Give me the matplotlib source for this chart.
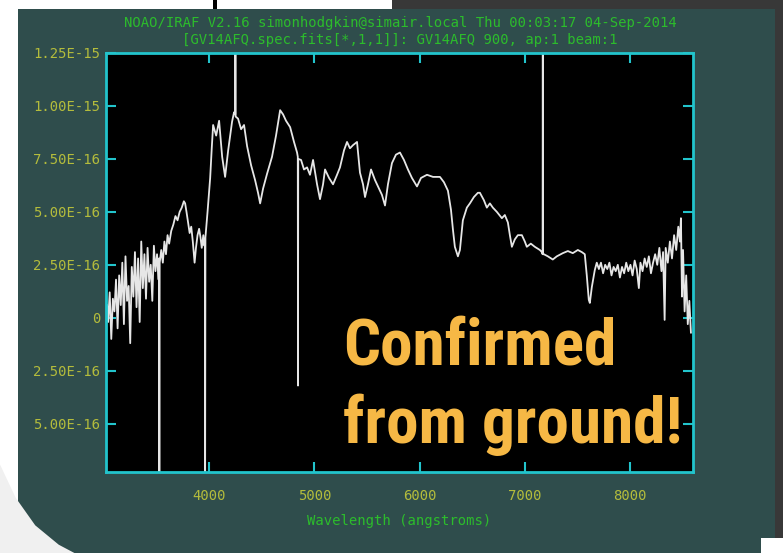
import numpy as np
import matplotlib
matplotlib.use("Agg")
import matplotlib.pyplot as plt
from matplotlib import font_manager
from matplotlib.patches import Rectangle, Polygon

# spectrum, flux in units of 1e-16
wave_blue = [3030, 3040, 3055, 3070, 3085, 3100, 3115, 3130, 3145, 3160,
             3175, 3190, 3205, 3220, 3235, 3250, 3265, 3280, 3295, 3310,
             3325, 3340, 3355, 3370, 3385, 3400, 3415, 3430, 3445, 3460,
             3475, 3490, 3505, 3520, 3524, 3527, 3530, 3545, 3560, 3575,
             3590, 3605, 3620, 3640, 3660, 3680, 3700, 3720, 3740, 3760,
             3772, 3785, 3800, 3815, 3830, 3845, 3862, 3875, 3890, 3905,
             3918, 3930, 3945, 3955, 3960, 3962, 3965, 3985, 4010, 4025,
             4038, 4067, 4095, 4124, 4152, 4181, 4218, 4237, 4248, 4250,
             4252]
flux_blue = [0.6, -0.2, 1.2, -1.0, 0.9, 0.3, 1.8, -0.5, 2.0, 0.6,
             2.6, -0.3, 2.9, 0.8, 1.5, -1.2, 2.4, 1.0, 3.1, 0.5,
             2.8, -0.2, 3.6, 1.4, 3.0, 0.9, 3.3, 1.7, 2.5, 0.8,
             3.4, 2.2, 3.0, 1.8, 2.8, -8.0, 2.6, 3.2, 2.6, 3.6,
             3.0, 3.9, 3.5, 4.1, 4.4, 4.8, 4.6, 5.0, 5.2, 5.5,
             5.4, 5.0, 4.5, 4.0, 4.3, 3.6, 2.6, 3.3, 3.9, 4.2,
             3.8, 3.3, 3.9, 3.4, 3.6, -8.0, 3.8, 5.0, 6.6, 8.0,
             9.1, 8.6, 9.3, 7.6, 6.65, 7.9, 9.25, 9.7, 9.6, 14.0,
             9.5]

wave_mid = [4275, 4304, 4332, 4361, 4399, 4437, 4465, 4485, 4513, 4551,
            4598, 4636, 4675, 4703, 4731, 4770, 4807, 4836, 4843, 4845,
            4847, 4874, 4902, 4931, 4959, 4988, 5026, 5054, 5083, 5102,
            5140, 5178, 5216, 5244, 5282, 5311, 5339, 5368, 5406, 5434,
            5463, 5482, 5510, 5539, 5577, 5605, 5643, 5672, 5700, 5738,
            5776, 5814, 5852, 5890, 5928, 5976, 6014, 6071, 6128, 6194,
            6232, 6270, 6299, 6318, 6336, 6365, 6384, 6412, 6450, 6479,
            6517, 6555, 6574, 6612, 6640, 6669, 6697, 6735, 6783, 6811,
            6840, 6859, 6878, 6906, 6935, 6973, 7001, 7020, 7058, 7096]
flux_mid = [9.4, 8.9, 9.1, 8.1, 7.2, 6.5, 5.9, 5.4, 6.1, 6.8,
            7.6, 8.6, 9.8, 9.6, 9.3, 9.0, 8.3, 7.8, 7.6, -3.2,
            7.5, 7.45, 7.0, 7.1, 6.75, 7.45, 6.3, 5.6, 6.3, 7.0,
            6.6, 6.3, 6.75, 7.1, 7.9, 8.3, 8.0, 8.15, 8.3, 6.85,
            6.3, 5.7, 6.3, 7.0, 6.5, 6.2, 5.8, 5.3, 6.3, 7.3,
            7.7, 7.8, 7.45, 7.0, 6.6, 6.2, 6.6, 6.75, 6.65, 6.65,
            6.4, 6.0, 5.1, 4.15, 3.35, 2.9, 3.2, 4.6, 5.2, 5.4,
            5.7, 5.9, 5.9, 5.55, 5.2, 5.4, 5.2, 5.0, 4.7, 4.85,
            4.5, 3.9, 3.35, 3.7, 3.9, 3.9, 3.6, 3.35, 3.5, 3.35]

wave_red = [7144, 7163, 7170, 7172, 7174, 7182, 7220, 7267, 7305, 7362,
            7410, 7457, 7505, 7543, 7571, 7590, 7609, 7619, 7638, 7666,
            7685, 7705, 7725, 7745, 7765, 7785, 7805, 7825, 7845, 7865,
            7885, 7905, 7925, 7945, 7965, 7985, 8005, 8025, 8045, 8065,
            8085, 8100, 8120, 8140, 8160, 8180, 8200, 8220, 8240, 8260,
            8280, 8300, 8315, 8330, 8340, 8360, 8380, 8400, 8420, 8440,
            8460, 8475, 8485, 8495, 8505, 8520, 8535, 8550, 8565, 8580]
flux_red = [3.2, 3.1, 3.0, 14.0, 3.0, 3.0, 2.9, 2.75, 2.9, 3.05,
            3.15, 3.05, 3.2, 3.1, 3.0, 2.0, 0.85, 0.7, 1.45, 2.25,
            2.6, 2.3, 2.6, 2.1, 2.5, 2.3, 2.6, 2.0, 2.4, 2.2,
            2.5, 1.9, 2.4, 2.1, 2.6, 2.2, 2.5, 2.0, 2.7, 2.3,
            1.4, 2.6, 2.2, 2.8, 2.4, 2.9, 2.1, 2.6, 3.0, 2.5,
            3.3, 2.2, 3.1, -0.1, 3.3, 2.6, 3.6, 2.8, 3.9, 3.2,
            4.3, 3.6, 4.7, 1.0, 3.2, 0.3, 2.0, -0.3, 0.8, -0.7]

xticks = [4000, 5000, 6000, 7000, 8000]
yticks = [-5e-16, -2.5e-16, 0, 2.5e-16, 5e-16, 7.5e-16, 1e-15, 1.25e-15]
ylabels = ["5.00E-16", "2.50E-16", "0", "2.50E-16", "5.00E-16",
           "7.50E-16", "1.00E-15", "1.25E-15"]

title1 = "NOAO/IRAF V2.16 simonhodgkin@simair.local Thu 00:03:17 04-Sep-2014"
title2 = "[GV14AFQ.spec.fits[*,1,1]]: GV14AFQ 900, ap:1 beam:1"
banner = ["Confirmed", "from ground!"]

wave = np.array(wave_blue + wave_mid + wave_red)
flux = np.array(flux_blue + flux_mid + flux_red) * 1e-16

bg = "#2f4d4c"
cyan = "#22c4cc"
green = "#2cbc2c"
olive = "#b4bc3c"
orange = "#f6b845"
mono = "DejaVu Sans Mono"

# narrow bold face for the banner if one is around, else plain bold smaller
have = {f.name for f in font_manager.fontManager.ttflist}
banner_font, banner_size = "Liberation Sans", 39
for name in ["Roboto Condensed", "Liberation Sans Narrow", "Open Sans Condensed",
             "Noto Sans Condensed", "DejaVu Sans Condensed"]:
    if name in have:
        banner_font, banner_size = name, 47
        break

fig = plt.figure(figsize=(7.83, 5.53), dpi=100, facecolor=bg)

# bits of the slide around the screen grab
def fig_rect(x, y, w, h, c):
    fig.patches.append(Rectangle((x, y), w, h, transform=fig.transFigure,
                                 facecolor=c, edgecolor="none"))

fig_rect(0, 0.984, 0.272, 0.016, "white")
fig_rect(0.272, 0.984, 0.005, 0.016, "black")
fig_rect(0.277, 0.984, 0.224, 0.016, "white")
fig_rect(0.501, 0.984, 0.499, 0.016, "#383838")
fig_rect(0, 0, 0.023, 0.984, "white")
fig_rect(0.99, 0, 0.01, 0.984, "#383838")
fig_rect(0.972, 0, 0.028, 0.028, "white")
fig.patches.append(Polygon([(0, 0), (0, 0.16), (0.02, 0.1), (0.045, 0.05),
                            (0.075, 0.015), (0.095, 0)], closed=True,
                           transform=fig.transFigure, facecolor="#f0f0f0",
                           edgecolor="none"))

ax = fig.add_axes([0.1354, 0.1465, 0.7497, 0.7577])
ax.set_facecolor("black")
ax.plot(wave, flux, color="#e6e6e6", lw=1.3)

ax.set_xlim(3020, 8600)
ax.set_ylim(-7.28e-16, 1.25e-15)
ax.set_xticks(xticks)
ax.set_xticklabels([str(t) for t in xticks])
ax.set_yticks(yticks)
ax.set_yticklabels(ylabels)

for s in ax.spines.values():
    s.set_color(cyan)
    s.set_linewidth(2)
ax.tick_params(direction="in", length=7, width=1.5, color=cyan,
               top=True, right=True, labelcolor=olive, labelsize=10)
ax.tick_params(axis="x", pad=12)
ax.tick_params(axis="y", pad=4)
for lab in ax.get_xticklabels() + ax.get_yticklabels():
    lab.set_family(mono)

ax.set_xlabel("Wavelength (angstroms)", color=green, family=mono,
              fontsize=10, labelpad=8)
fig.text(0.511, 0.958, title1, color=green, family=mono, fontsize=10,
         ha="center", va="center")
fig.text(0.511, 0.928, title2, color=green, family=mono, fontsize=10,
         ha="center", va="center")

fig.text(0.438, 0.340, banner[0], color=orange, fontsize=banner_size,
         fontweight="bold", family=[banner_font, "DejaVu Sans"],
         ha="left", va="baseline")
fig.text(0.438, 0.199, banner[1], color=orange, fontsize=banner_size,
         fontweight="bold", family=[banner_font, "DejaVu Sans"],
         ha="left", va="baseline")

fig.savefig("out.png", dpi=100, facecolor=bg)
